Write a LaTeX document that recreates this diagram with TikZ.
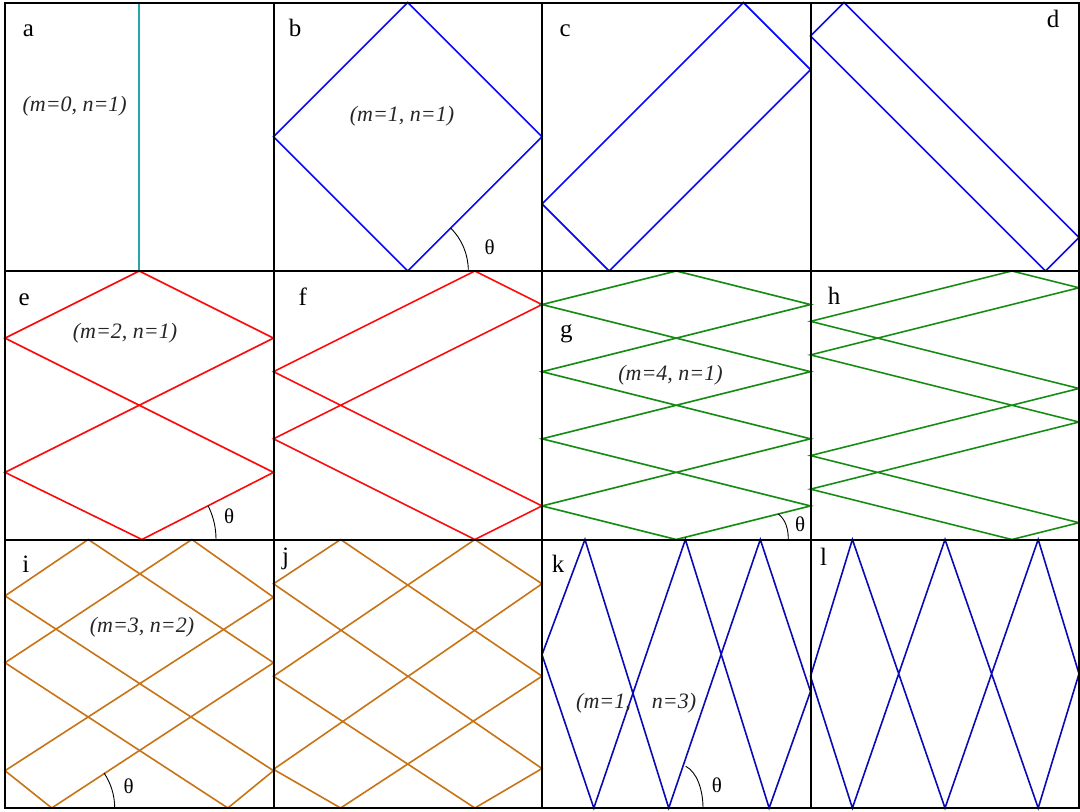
\documentclass[tikz,border=0pt]{standalone}
\usepackage{fontspec}
\setmainfont{Liberation Serif}
\definecolor{cteal}{RGB}{40,165,165}
\definecolor{cblue}{RGB}{10,10,245}
\definecolor{cred}{RGB}{250,10,10}
\definecolor{cgreen}{RGB}{20,140,20}
\definecolor{corange}{RGB}{200,115,20}
\definecolor{cnavy}{RGB}{10,10,180}
\begin{document}
\begin{tikzpicture}[x=1pt,y=-1pt,
  orbit/.style={line width=1.6pt, line join=miter},
  gridline/.style={line width=2pt, black},
  anglemark/.style={line width=0.9pt, black},
  letterlabel/.style={anchor=base west, inner sep=0pt, font=\fontsize{25}{30}\selectfont},
  mnlabel/.style={anchor=base, inner sep=0pt, font=\fontsize{22}{26}\selectfont\itshape, text=black!85},
  mnlabelw/.style={anchor=base west, inner sep=0pt, font=\fontsize{22}{26}\selectfont\itshape, text=black!85},
  thetalabel/.style={anchor=base west, inner sep=0pt, font=\fontsize{21}{25}\selectfont}]
\useasboundingbox (0,0) rectangle (1080,812);
\fill[white] (0,0) rectangle (1080,812);

% ---- row 1 ----
\begin{scope}[shift={(5pt,-2.5pt)}, x=268.5pt, y=-268.5pt]
  \draw[orbit, cteal] (0.5,0) -- (0.5,1);
\end{scope}
\begin{scope}[shift={(273.5pt,-2.5pt)}, x=268.5pt, y=-268.5pt]
  \draw[orbit, cblue] (0.5,0) -- (1,0.5) -- (0.5,1) -- (0,0.5) -- cycle;
\end{scope}
\begin{scope}[shift={(542pt,-2.5pt)}, x=268.5pt, y=-268.5pt]
  \draw[orbit, cblue] (0.75,0) -- (1,0.25) -- (0.25,1) -- (0,0.75) -- cycle;
\end{scope}
\begin{scope}[shift={(810.5pt,-2.5pt)}, x=268.5pt, y=-268.5pt]
  \draw[orbit, cblue] (0.125,0) -- (1,0.875) -- (0.875,1) -- (0,0.125) -- cycle;
\end{scope}

% ---- row 2 ----
\begin{scope}[shift={(5pt,-271pt)}, x=268.5pt, y=-268.5pt]
  \draw[orbit, cred] (0.5,0) -- (1,0.25) -- (0,0.75) -- (0.51,1) -- (1,0.75) -- (0,0.25) -- cycle;
\end{scope}
\begin{scope}[shift={(273.5pt,-271pt)}, x=268.5pt, y=-268.5pt]
  \draw[orbit, cred] (0.75,0) -- (1,0.125) -- (0,0.625) -- (0.75,1) -- (1,0.875) -- (0,0.375) -- cycle;
\end{scope}
\begin{scope}[shift={(542pt,-271pt)}, x=268.5pt, y=-268.5pt]
  \draw[orbit, cgreen] (0.5,0) -- (1,0.125) -- (0,0.375) -- (1,0.625) -- (0,0.875) -- (0.5,1)
    -- (1,0.875) -- (0,0.625) -- (1,0.375) -- (0,0.125) -- cycle;
\end{scope}
\begin{scope}[shift={(810.5pt,-271pt)}, x=268.5pt, y=-268.5pt]
  \draw[orbit, cgreen] (0.75,0) -- (1,0.0625) -- (0,0.3125) -- (1,0.5625) -- (0,0.8125) -- (0.75,1)
    -- (1,0.9375) -- (0,0.6875) -- (1,0.4375) -- (0,0.1875) -- cycle;
\end{scope}

% ---- row 3 ----
\begin{scope}[shift={(5pt,-539.5pt)}, x=268.5pt, y=-268.5pt]
  \draw[orbit, corange] (0.31,0) -- (0,0.21) -- (1,0.861) -- (0.83,1) -- (0,0.459) -- (0.696,0)
    -- (1,0.215) -- (0,0.861) -- (0.174,1) -- (1,0.459) -- cycle;
\end{scope}
\begin{scope}[shift={(273.5pt,-539.5pt)}, x=268.5pt, y=-268.5pt]
  \draw[orbit, corange] (0.25,0) -- (0,0.165) -- (1,0.853) -- (0.75,1) -- (0,0.509) -- (0.75,0)
    -- (1,0.165) -- (0,0.856) -- (0.25,1) -- (1,0.509) -- cycle;
\end{scope}
\begin{scope}[shift={(542pt,-539.5pt)}, x=268.5pt, y=-268.5pt]
  \draw[orbit, cnavy] (0,0.429) -- (0.16,0) -- (0.472,1) -- (0.813,0) -- (1,0.566) -- (0.846,1)
    -- (0.534,0) -- (0.193,1) -- cycle;
\end{scope}
\begin{scope}[shift={(810.5pt,-539.5pt)}, x=268.5pt, y=-268.5pt]
  \draw[orbit, cnavy] (0,0.51) -- (0.156,0) -- (0.501,1) -- (0.848,0) -- (1,0.5) -- (0.848,1)
    -- (0.501,0) -- (0.156,1) -- cycle;
\end{scope}

% ---- angle marks ----
\draw[anglemark] (468.3,270.5) arc[start angle=0, end angle=45, radius=60pt];
\draw[anglemark] (216,539) arc[start angle=0, end angle=26.6, radius=74pt];
\draw[anglemark] (778.3,514) .. controls (785,519) and (788.3,528) .. (788.3,539);
\draw[anglemark] (114.7,808) arc[start angle=0, end angle=33.7, radius=63pt];
\draw[anglemark] (685.7,766.3) .. controls (697,772) and (703,790) .. (703,808);

% ---- grid ----
\draw[gridline] (5,2.5) rectangle (1079,808);
\draw[gridline] (273.5,2.5) -- (273.5,808);
\draw[gridline] (542,2.5) -- (542,808);
\draw[gridline] (810.5,2.5) -- (810.5,808);
\draw[gridline] (5,271) -- (1079,271);
\draw[gridline] (5,539.5) -- (1079,539.5);

% ---- labels ----
\node[letterlabel] (la) at (22.7,36.7) {a};
\node[letterlabel] (lb) at (288.7,36) {b};
\node[letterlabel] (lc) at (559.5,36) {c};
\node[letterlabel] (ld) at (1046.7,27.3) {d};
\node[letterlabel] (le) at (18.5,305) {e};
\node[letterlabel] (lf) at (298.5,305) {f};
\node[letterlabel] (lg) at (560,337.5) {g};
\node[letterlabel] (lh) at (827.7,304.3) {h};
\node[letterlabel] (li) at (22.3,572.7) {i};
\node[letterlabel] (lj) at (282,564) {j};
\node[letterlabel] (lk) at (551.7,572.7) {k};
\node[letterlabel] (ll) at (820,565.3) {l};

\node[mnlabel] (ma) at (74.7,111.5) {(m=0, n=1)};
\node[mnlabel] (mb) at (402,121.7) {(m=1, n=1)};
\node[mnlabel] (me) at (125,338) {(m=2, n=1)};
\node[mnlabel] (mg) at (670.5,380) {(m=4, n=1)};
\node[mnlabel] (mi) at (142,632.7) {(m=3, n=2)};
\node[mnlabelw] (mk1) at (576,708.7) {(m=1,};
\node[mnlabelw] (mk2) at (651.7,708.7) {n=3)};

\node[thetalabel] (tb) at (484.3,254) {θ};
\node[thetalabel] (te) at (224,523) {θ};
\node[thetalabel] (tg) at (795,531.7) {θ};
\node[thetalabel] (ti) at (123.3,793) {θ};
\node[thetalabel] (tk) at (711.7,792) {θ};
\end{tikzpicture}
\end{document}
